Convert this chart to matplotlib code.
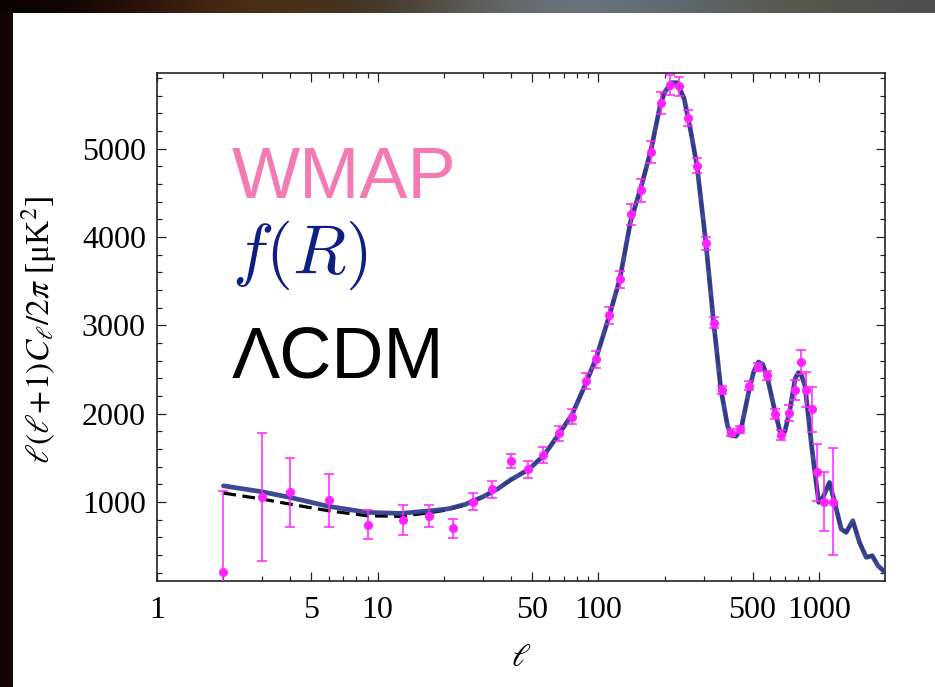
import numpy as np
import matplotlib
matplotlib.use("Agg")
import matplotlib.pyplot as plt
from matplotlib.patches import Rectangle
from matplotlib.ticker import FixedLocator, NullFormatter

plt.rcParams['font.family'] = ['Liberation Serif', 'DejaVu Serif']
plt.rcParams['mathtext.fontset'] = 'stix'

# WMAP binned band powers
wmap_l = [2, 3, 4, 6, 9, 13, 17, 22, 27, 33, 40, 48, 56, 66, 76, 88, 98, 112, 125, 140,
          156, 173, 192, 211, 232, 254, 280, 307, 333, 362, 399, 440, 480, 527, 581,
          632, 673, 728, 782, 829, 874, 930, 977, 1052, 1153]
wmap_dl = [212, 1053, 1109, 1022, 743, 800, 845, 703, 1003, 1147, 1467, 1372, 1534, 1780,
           1968, 2371, 2616, 3113, 3520, 4254, 4529, 4958, 5516, 5723, 5704, 5347, 4808,
           3926, 3030, 2265, 1787, 1825, 2314, 2529, 2435, 1998, 1757, 2005, 2269, 2585,
           2269, 2050, 1335, 1004, 1004]
wmap_err = [915, 723, 388, 300, 165, 168, 122, 107, 95, 97, 79, 94, 94, 85, 85, 94, 94,
            98, 94, 117, 128, 126, 122, 113, 107, 90, 80, 70, 60, 47, 38, 38, 51, 47, 51,
            60, 57, 88, 117, 141, 198, 254, 320, 333, 608]

# f(R) model curve
fr_l = [2, 3, 4, 6, 9, 12.7, 18, 21, 25, 30, 35, 40, 48.5, 56.7, 65, 76, 88, 98, 112,
        125, 140, 156, 173, 191, 200, 214, 228, 245, 262, 280, 307, 333, 359, 385, 400,
        420, 443, 483, 505, 531, 555, 581, 628, 673, 700, 734, 780, 806, 830, 864, 921,
        953, 997, 1040, 1115, 1188, 1260, 1327, 1422, 1525, 1636, 1742, 1849, 1982]
fr_dl = [1184, 1116, 1053, 951, 883, 872, 905, 925, 975, 1060, 1150, 1250, 1372, 1531,
         1740, 1990, 2350, 2640, 3105, 3520, 4180, 4560, 4980, 5500, 5640, 5745, 5745,
         5560, 5200, 4800, 3934, 3030, 2277, 1862, 1760, 1745, 1825, 2277, 2470, 2585,
         2560, 2427, 2050, 1749, 1800, 2013, 2400, 2465, 2440, 2314, 1680, 1373, 996,
         1050, 1222, 958, 695, 657, 789, 544, 375, 393, 280, 212]

# LCDM differs only at low multipoles
lcdm_low_l = [2, 3, 4, 6, 9, 12.7, 18, 21, 25]
lcdm_low_dl = [1102, 1034, 977, 901, 845, 838, 887, 915, 970]
lcdm_l = lcdm_low_l + fr_l[9:]
lcdm_dl = lcdm_low_dl + fr_dl[9:]

W, H = 935, 687
fig = plt.figure(figsize=(W / 100, H / 100), dpi=100)
fig.patch.set_facecolor('#140404')

# dark photo-like strip at top
strip_cols = np.array([[10, 2, 2], [50, 20, 12], [85, 55, 20], [60, 45, 30], [95, 95, 90],
                       [110, 120, 130], [95, 105, 115], [90, 90, 75], [80, 80, 80]]) / 255
strip = fig.add_axes([0, 1 - 13 / H, 1, 13 / H])
strip.imshow(strip_cols[np.newaxis, :, :], aspect='auto', interpolation='bicubic')
strip.axis('off')
fig.add_artist(Rectangle((13 / W, 0), 1, 1 - 13 / H, transform=fig.transFigure,
                         facecolor='white', edgecolor='none', zorder=0.5))

ax = fig.add_axes([157 / W, 1 - 581 / H, (885 - 157) / W, (581 - 73) / H])
ax.set_zorder(2)
ax.set_facecolor('white')

ax.plot(lcdm_l, lcdm_dl, color='black', lw=2.3, ls=(0, (4, 2)), zorder=2)
ax.plot(fr_l, fr_dl, color='#343e8e', lw=3.4, solid_capstyle='round', zorder=3,
        alpha=0.95)
ax.errorbar(wmap_l, wmap_dl, yerr=wmap_err, fmt='o', color='#ff22ff', ms=5.5,
            elinewidth=1.1, capsize=3.5, capthick=1.1, zorder=4)

ax.set_xscale('log')
ax.set_xlim(1, 1990)
ax.set_ylim(107, 5855)

xmaj = [1, 5, 10, 50, 100, 500, 1000]
xmin = [2, 3, 4, 6, 7, 8, 9, 20, 30, 40, 60, 70, 80, 90, 200, 300, 400, 600, 700, 800, 900]
ax.xaxis.set_major_locator(FixedLocator(xmaj))
ax.xaxis.set_minor_locator(FixedLocator(xmin))
ax.set_xticklabels([str(v) for v in xmaj])
ax.xaxis.set_minor_formatter(NullFormatter())
ax.yaxis.set_major_locator(FixedLocator([1000, 2000, 3000, 4000, 5000]))
ax.yaxis.set_minor_locator(FixedLocator(np.arange(200, 5801, 200)))

ax.tick_params(which='both', direction='in', top=True, right=True, width=0.9,
               labelsize=23, color='#222222')
ax.tick_params(which='major', length=6.5)
ax.tick_params(which='minor', length=3.5)
ax.tick_params(axis='x', pad=11)
ax.tick_params(axis='y', pad=8)
for s in ax.spines.values():
    s.set_linewidth(1.2)
    s.set_color('#222222')

ax.set_ylabel(r'$\ell(\ell\!+\!1)C_\ell/2\pi$ [μK$^2$]', fontsize=24)
ax.yaxis.set_label_coords(-0.135, 0.494)
ax.set_xlabel(r'$\ell$', fontsize=23)
ax.xaxis.set_label_coords(0.5, -0.125)

fig.text(232 / W, 1 - 198 / H, 'WMAP', fontsize=52, color='#f47ab4',
         family='Liberation Sans', va='baseline', zorder=5)
fig.text(232 / W, 1 - 273 / H, r'$f(R)$', fontsize=50, color='#0d1f80',
         math_fontfamily='cm', va='baseline', zorder=5)
fig.text(232 / W, 1 - 377 / H, 'ΛCDM', fontsize=52, color='black',
         family='Liberation Sans', va='baseline', zorder=5)

fig.savefig('out.png', dpi=100, facecolor=fig.get_facecolor())
